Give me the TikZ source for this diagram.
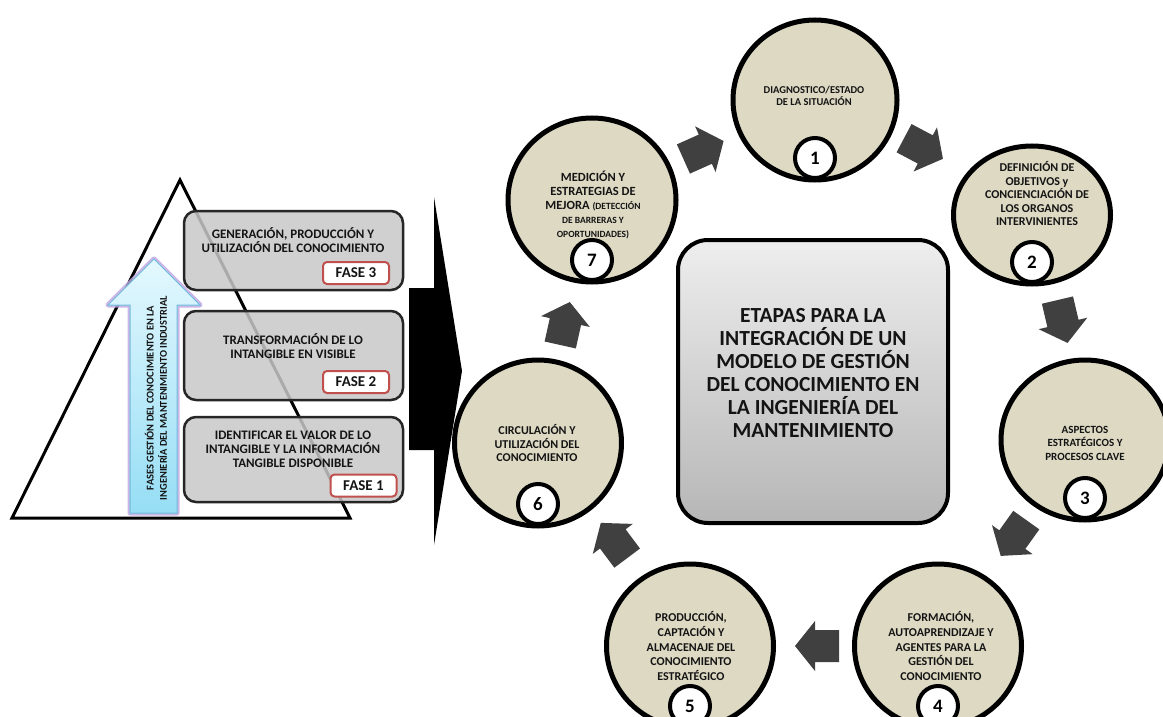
\documentclass[tikz,border=0pt]{standalone}
\usepackage{fontspec}
\setmainfont{Carlito}
\usetikzlibrary{shapes.geometric,calc}
\definecolor{stagefill}{RGB}{221,217,195}
\definecolor{arrowgrey}{RGB}{64,64,64}
\definecolor{faseedge}{RGB}{192,80,77}
\definecolor{phasefill}{RGB}{200,200,200}
\definecolor{phaseedge}{RGB}{38,38,38}
\definecolor{glow}{RGB}{190,165,225}
\definecolor{blueedge}{RGB}{110,190,220}
\definecolor{bluetop}{RGB}{228,248,254}
\definecolor{bluebottom}{RGB}{150,222,245}
\definecolor{boxtop}{RGB}{238,238,238}
\definecolor{boxbottom}{RGB}{182,182,182}
\definecolor{inktext}{RGB}{20,20,20}
\newcommand\smalltxt{\fontsize{9.5}{11}\selectfont}
\tikzset{pics/cyclearrow/.style={code={%
  \fill[arrowgrey] (-22,-16) -- (2,-16) -- (2,-25) -- (22,0) -- (2,25) -- (2,16) -- (-22,16) -- cycle;}}}
\newcommand\stagearrow[3]{%
  \path let \p1=($(#2)-(#1)$), \n1={atan2(\y1,\x1)} in
    ($(#1)!0.5!(#2)+(#3)$) pic[rotate=\n1] {cyclearrow};}
\begin{document}
\begin{tikzpicture}[x=1pt,y=-1pt,
  stage/.style={ellipse, draw=black, line width=5pt, fill=stagefill, inner sep=0pt},
  numc/.style={circle, draw=black, line width=4pt, fill=white, minimum size=40pt, inner sep=0pt,
    font=\bfseries\fontsize{19}{19}\selectfont, anchor=south, yshift=2.5pt},
  stagetext/.style={align=center, text=inktext, font=\bfseries\fontsize{12}{13.5}\selectfont},
  phasebox/.style={rectangle, rounded corners=12pt, draw=phaseedge, line width=2.5pt, fill=phasefill,
    fill opacity=0.85, minimum width=219pt, inner sep=0pt},
  phasetext/.style={align=center, text=inktext, font=\bfseries\fontsize{13}{14}\selectfont},
  faselabel/.style={rectangle, rounded corners=4pt, draw=faseedge, line width=2pt, fill=white,
    minimum width=66pt, minimum height=22pt, inner sep=0pt, text=inktext, font=\bfseries\fontsize{15}{15}\selectfont},
  centerbox/.style={rectangle, rounded corners=30pt, draw=black, line width=4pt,
    top color=boxtop, bottom color=boxbottom, minimum width=270pt, minimum height=283pt},
  titletext/.style={align=center, text=inktext, font=\bfseries\fontsize{21.5}{23}\selectfont}]
\useasboundingbox (0,0) rectangle (1163,717);
\fill[white] (0,0) rectangle (1163,717);
\clip (0,0) rectangle (1163,717);

% pyramid
\draw[line width=3pt, line join=miter] (180,180) -- (350,518) -- (12,518) -- cycle;

% blue vertical arrow
\draw[glow, line width=5pt, line join=round, opacity=0.8]
  (130,513) -- (130,305) -- (108,305) -- (154,259) -- (200,305) -- (177,305) -- (177,513) -- cycle;
\shade[top color=bluetop, bottom color=bluebottom, draw=blueedge, line width=1pt]
  (130,513) -- (130,305) -- (108,305) -- (154,259) -- (200,305) -- (177,305) -- (177,513) -- cycle;
\node[rotate=90, align=center, text=inktext, font=\bfseries\fontsize{10.4}{13.3}\selectfont] (axis) at (156,398)
  {FASES GESTIÓN DEL CONOCIMIENTO EN LA\\INGENIERÍA DEL MANTENIMIENTO INDUSTRIAL};

% phase boxes
\node[phasebox, minimum height=79pt] (ph3) at (293.5,250.5) {};
\node[phasebox, minimum height=89pt] (ph2) at (293.5,355.5) {};
\node[phasebox, minimum height=85pt] (ph1) at (293.5,459.5) {};
\node[phasetext] (ph3t) at (293,240) {GENERACIÓN, PRODUCCIÓN Y\\UTILIZACIÓN DEL CONOCIMIENTO};
\node[phasetext] (ph2t) at (293,346) {TRANSFORMACIÓN DE LO\\INTANGIBLE EN VISIBLE};
\node[phasetext] (ph1t) at (293,449) {IDENTIFICAR EL VALOR DE LO\\INTANGIBLE Y LA INFORMACIÓN\\TANGIBLE DISPONIBLE};
\node[faselabel] (f3) at (356,273) {FASE 3};
\node[faselabel] (f2) at (356,382) {FASE 2};
\node[faselabel] (f1) at (363.5,485.5) {FASE 1};

% big black arrow
\fill[black] (409,288) -- (434,288) -- (434,197) -- (462,371) -- (434,545) -- (434,450) -- (409,450) -- cycle;

% central box
\node[centerbox] (core) at (813,381.5) {};
\node[titletext] (coret) at (813,373) {ETAPAS PARA LA\\INTEGRACIÓN DE UN\\MODELO DE GESTIÓN\\DEL CONOCIMIENTO EN\\LA INGENIERÍA DEL\\MANTENIMIENTO};

% stage circles
\node[stage, minimum width=164pt, minimum height=160pt] (c1) at (815,100) {};
\node[stage, minimum width=157pt, minimum height=138pt] (c2) at (1032,215) {};
\node[stage, minimum width=168pt, minimum height=160pt] (c3) at (1085,440) {};
\node[stage, minimum width=167pt, minimum height=164pt] (c4) at (938,646) {};
\node[stage, minimum width=167pt, minimum height=164pt] (c5) at (690,646) {};
\node[stage, minimum width=167pt, minimum height=166pt] (c6) at (538,443) {};
\node[stage, minimum width=168pt, minimum height=164pt] (c7) at (592,200) {};

\node[numc] (n1) at (c1.south) {1};
\node[numc] (n2) at (c2.south) {2};
\node[numc] (n3) at (c3.south) {3};
\node[numc] (n4) at (c4.south) {4};
\node[numc] (n5) at (c5.south) {5};
\node[numc] (n6) at (c6.south) {6};
\node[numc] (n7) at (c7.south) {7};

\node[stagetext, font=\bfseries\fontsize{10.5}{12}\selectfont] (t1) at (814,96) {DIAGNOSTICO/ESTADO\\DE LA SITUACIÓN};
\node[stagetext] (t2) at (1037,194) {DEFINICIÓN DE\\OBJETIVOS y\\CONCIENCIACIÓN DE\\LOS ORGANOS\\INTERVINIENTES};
\node[stagetext, font=\bfseries\fontsize{11}{13.5}\selectfont] (t3) at (1085,443) {ASPECTOS\\ESTRATÉGICOS Y\\PROCESOS CLAVE};
\node[stagetext, font=\bfseries\fontsize{12}{14.7}\selectfont] (t4) at (941,646) {FORMACIÓN,\\AUTOAPRENDIZAJE Y\\AGENTES PARA LA\\GESTIÓN DEL\\CONOCIMIENTO};
\node[stagetext, font=\bfseries\fontsize{12}{14.7}\selectfont] (t5) at (691,646) {PRODUCCIÓN,\\CAPTACIÓN Y\\ALMACENAJE DEL\\CONOCIMIENTO\\ESTRATÉGICO};
\node[stagetext, font=\bfseries\fontsize{12}{13.4}\selectfont] (t6) at (537,443) {CIRCULACIÓN Y\\UTILIZACIÓN DEL\\CONOCIMIENTO};
\node[stagetext, font=\bfseries\fontsize{12.5}{14}\selectfont] (t7) at (593,205) {MEDICIÓN Y\\ESTRATEGIAS DE\\MEJORA \smalltxt(DETECCIÓN\\\smalltxt DE BARRERAS Y\\\smalltxt OPORTUNIDADES)};

% cycle arrows
\stagearrow{c7}{c1}{0,0}
\stagearrow{c1}{c2}{0,-9}
\stagearrow{c2}{c3}{4,-6}
\stagearrow{c3}{c4}{2,-5}
\stagearrow{c4}{c5}{3,0}
\stagearrow{c5}{c6}{0,-4}
\stagearrow{c6}{c7}{0,2}
\end{tikzpicture}
\end{document}
